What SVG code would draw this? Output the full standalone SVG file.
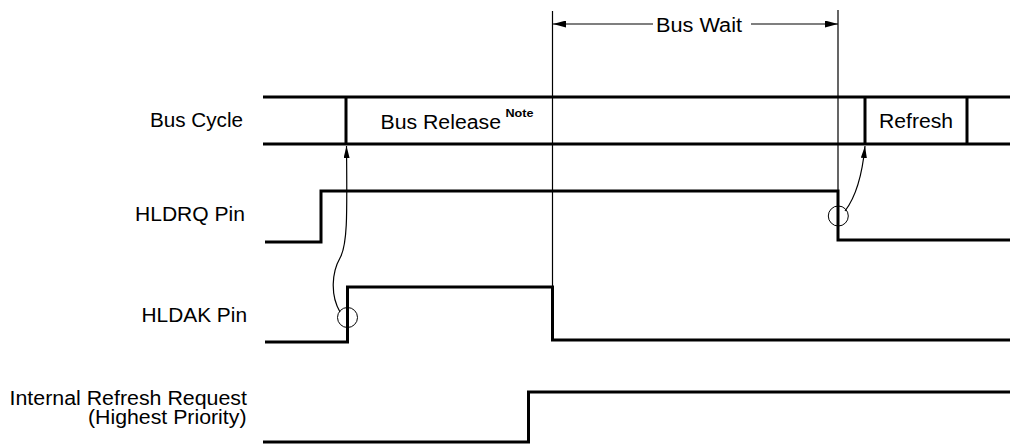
<svg xmlns="http://www.w3.org/2000/svg" width="1010" height="445" viewBox="0 0 1010 445">
<style>
text{font-family:"Liberation Sans",Arial,sans-serif;font-size:19.5px;fill:#000}
.sig{fill:none;stroke:#000;stroke-width:3;stroke-linejoin:miter;stroke-linecap:butt}
.thin{fill:none;stroke:#000;stroke-width:1.2}
.circ{fill:none;stroke:#000;stroke-width:1}
</style>
<defs>
<marker id="ah" viewBox="0 0 12 6" refX="12" refY="3" markerWidth="12" markerHeight="6" markerUnits="userSpaceOnUse" orient="auto">
<path d="M0,0 L12,3 L0,6 Z" fill="#000"/>
</marker>
<marker id="ahs" viewBox="0 0 13 7" refX="13" refY="3.5" markerWidth="13" markerHeight="7" markerUnits="userSpaceOnUse" orient="auto">
<path d="M0,0 L13,3.5 L0,7 Z" fill="#000"/>
</marker>
</defs>

<g id="labels">
<text x="150" y="127" textLength="93" lengthAdjust="spacingAndGlyphs">Bus Cycle</text>
<text x="135" y="221" textLength="110" lengthAdjust="spacingAndGlyphs">HLDRQ Pin</text>
<text x="141.5" y="322" textLength="105.5" lengthAdjust="spacingAndGlyphs">HLDAK Pin</text>
<text x="9.5" y="405" textLength="237.5" lengthAdjust="spacingAndGlyphs">Internal Refresh Request</text>
<text x="88" y="424" textLength="158.5" lengthAdjust="spacingAndGlyphs">(Highest Priority)</text>
</g>

<g id="bus-cycle">
<path class="sig" d="M263,97 H1010 M263,144 H1010 M346,97 V144 M865,97 V144 M967,97 V144"/>
<text x="380.5" y="129" textLength="120.5" lengthAdjust="spacingAndGlyphs">Bus Release</text>
<text x="505.5" y="117" textLength="28" lengthAdjust="spacingAndGlyphs" style="font-size:11.5px;font-weight:bold">Note</text>
<text x="879" y="128" textLength="74" lengthAdjust="spacingAndGlyphs">Refresh</text>
</g>

<g id="hldrq">
<path class="sig" d="M265,242 H321 V191 H838 V240 H1010"/>
</g>

<g id="hldak">
<path class="sig" d="M265,342 H347.5 V287 H552.5 V340 H1010"/>
</g>

<g id="internal-refresh">
<path class="sig" d="M263,442 H528.5 V392 H1010"/>
</g>

<g id="bus-wait">
<path class="thin" d="M552.5,11 V287 M838,10 V191"/>
<path class="thin" d="M653,24 H553" marker-end="url(#ahs)"/>
<path class="thin" d="M751,24 H838" marker-end="url(#ahs)"/>
<text x="656" y="32" textLength="86" lengthAdjust="spacingAndGlyphs">Bus Wait</text>
</g>

<g id="connectors">
<circle class="circ" cx="347.5" cy="317.5" r="10"/>
<circle class="circ" cx="838.3" cy="216" r="10"/>
<path class="thin" d="M340,312 C330,295 332,272 340,258 C348,244 347,210 346.5,146" marker-end="url(#ah)"/>
<path class="thin" d="M845,211 C855,198 862,178 865,146" marker-end="url(#ah)"/>
</g>
</svg>
